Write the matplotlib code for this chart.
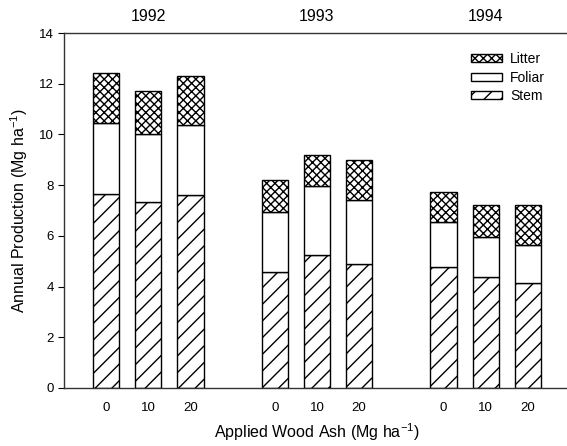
import numpy as np
import matplotlib
matplotlib.use("Agg")
import matplotlib.pyplot as plt
from matplotlib.patches import Patch

plt.rcParams['font.family'] = ['Liberation Sans', 'DejaVu Sans']
plt.rcParams['mathtext.fontset'] = 'custom'
plt.rcParams['mathtext.rm'] = 'Liberation Sans'
plt.rcParams['mathtext.default'] = 'regular'
plt.rcParams['hatch.linewidth'] = 1.0

years = ['1992', '1993', '1994']
ash_labels = ['0', '10', '20', '0', '10', '20', '0', '10', '20']
positions = [0, 1, 2, 4, 5, 6, 8, 9, 10]

stem = np.array([7.65, 7.33, 7.61, 4.57, 5.24, 4.89, 4.76, 4.38, 4.14])
foliar_top = np.array([10.44, 10.0, 10.36, 6.94, 7.95, 7.41, 6.53, 5.97, 5.63])
litter_top = np.array([12.43, 11.71, 12.29, 8.19, 9.2, 8.98, 7.74, 7.23, 7.2])
foliar = foliar_top - stem
litter = litter_top - foliar_top

fig = plt.figure(figsize=(5.67, 4.46), dpi=100)
ax = fig.add_axes([64 / 567, 1 - 388 / 446, (570 - 64) / 567, (388 - 33) / 446])

w = 0.62
kw = dict(width=w, edgecolor='black', linewidth=1.0, color='white')
ax.bar(positions, stem, hatch='//', **kw)
ax.bar(positions, foliar, bottom=stem, **kw)
ax.bar(positions, litter, bottom=foliar_top, hatch='xxxx', **kw)

ax.set_xlim(-1, 11)
ax.set_ylim(0, 14)
ax.set_yticks(range(0, 15, 2))
ax.set_xticks(positions)
ax.set_xticklabels(ash_labels)
ax.tick_params(axis='x', length=0, pad=10, labelsize=9.5)
ax.tick_params(axis='y', direction='out', length=4, labelsize=9.5)
for sp in ax.spines.values():
    sp.set_linewidth(1.0)
    sp.set_color('#333333')

for i, yr in enumerate(years):
    ax.text(positions[3 * i + 1], 14.35, yr, ha='center', va='bottom', fontsize=11.5)

ax.set_xlabel('Applied Wood Ash (Mg ha$^{-1}$)', fontsize=11.5, labelpad=5)
ax.set_ylabel('Annual Production (Mg ha$^{-1}$)', fontsize=11.5, labelpad=6)

handles = [Patch(facecolor='white', edgecolor='black', hatch='xxxx', label='Litter'),
           Patch(facecolor='white', edgecolor='black', label='Foliar'),
           Patch(facecolor='white', edgecolor='black', hatch='//', label='Stem')]
ax.legend(handles=handles, loc='upper right', bbox_to_anchor=(0.975, 0.981), frameon=False,
          fontsize=10, handlelength=2.2, handleheight=0.53, labelspacing=0.31, handletextpad=0.6)

fig.savefig('out.png', dpi=100)
